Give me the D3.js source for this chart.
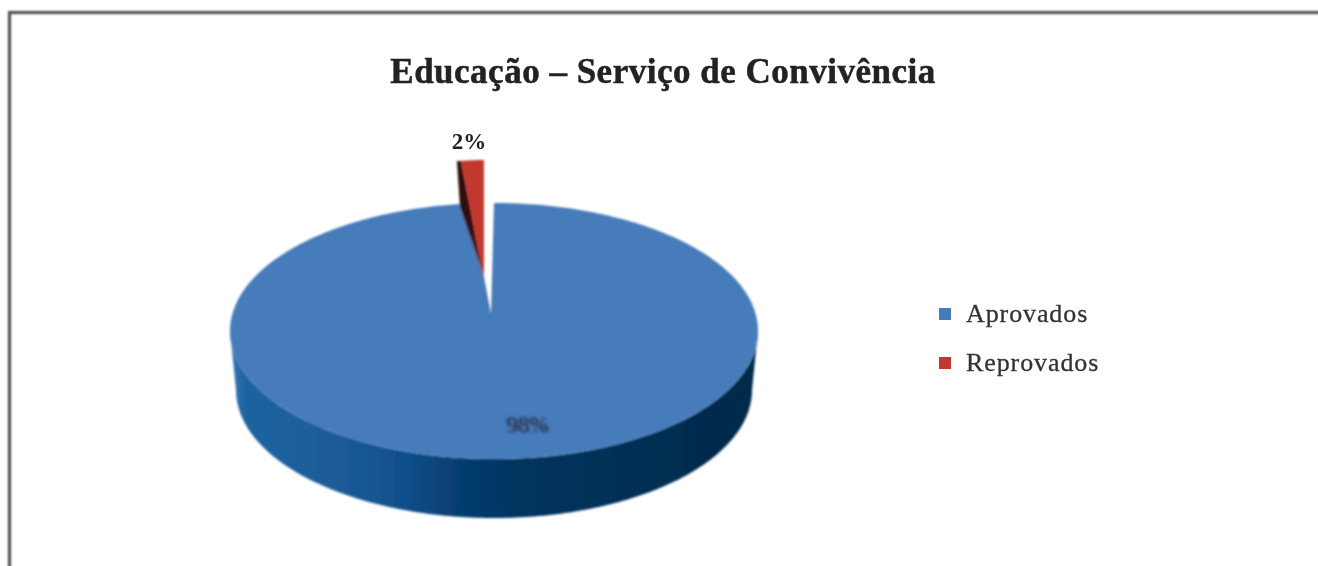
<!DOCTYPE html>
<html><head><meta charset="utf-8">
<script src="https://cdn.jsdelivr.net/npm/d3@7/dist/d3.min.js"></script>
<style>html,body{margin:0;background:#fff;overflow:hidden}svg{display:block}</style>
</head><body><svg id="c" width="1318" height="566"></svg>
<script>
const title = "Educação – Serviço de Convivência";
const categories = ["Aprovados", "Reprovados"];
const values = [98, 2];
const labels = ["98%", "2%"];
const colors = ["#477bbb", "#c0392f"];

const W = 1318, H = 566;
const svg = d3.select("#c").attr("viewBox", [0, 0, W, H]);
const defs = svg.append("defs");
const mkBlur = (id, s) => defs.append("filter").attr("id", id).attr("filterUnits", "userSpaceOnUse")
  .attr("x", 0).attr("y", 0).attr("width", W).attr("height", H)
  .append("feGaussianBlur").attr("stdDeviation", s);
mkBlur("soft", 0.9);
mkBlur("txt", 0.75);
mkBlur("smudge", 1.4);

const sideGrad = defs.append("linearGradient").attr("id", "side").attr("gradientUnits", "userSpaceOnUse")
  .attr("x1", 230).attr("x2", 758).attr("y1", 0).attr("y2", 0);
[[0, "#3a78bb"], [0.03, "#1f639f"], [0.2, "#1c5c98"], [0.33, "#104f8a"], [0.45, "#043b6c"], [0.55, "#013560"], [0.75, "#012f56"], [1, "#012a48"]]
  .forEach(([o, c]) => sideGrad.append("stop").attr("offset", o).attr("stop-color", c));
const redGrad = defs.append("linearGradient").attr("id", "redSide").attr("gradientUnits", "userSpaceOnUse")
  .attr("x1", 457).attr("x2", 484).attr("y1", 0).attr("y2", 0);
[[0, "#2a0a08"], [0.5, "#3a0f0c"], [1, "#7c1f18"]]
  .forEach(([o, c]) => redGrad.append("stop").attr("offset", o).attr("stop-color", c));

// frame
svg.append("path").attr("fill", "none").attr("stroke", "#4a4a4a").attr("stroke-width", 3).attr("filter", "url(#soft)")
  .attr("d", d3.line()([[9.5, H + 5], [9.5, 12.5], [W + 5, 12.5]]));

const serif = "'Liberation Serif', serif";
svg.append("text").attr("x", 663).attr("y", 83).attr("text-anchor", "middle")
  .attr("font-family", serif).attr("font-weight", "bold")
  .attr("font-size", 35).attr("letter-spacing", 0.5).attr("fill", "#222").attr("stroke", "#222").attr("stroke-width", 0.5)
  .attr("filter", "url(#txt)").text(title);

// pie geometry: angles from d3.pie, projected on a tilted ellipse
const arcs = d3.pie().sort(null).startAngle(0).endAngle(2 * Math.PI)(values);
const blue = arcs[0], red = arcs[1];
const proj = (cx, cy, rx, ry) => a => [cx + rx * Math.sin(a), cy - ry * Math.cos(a)];
const topRim = proj(494, 331, 264, 128);
const botRim = proj(494, 390, 258, 128);
const samples = (a0, a1, n = 180) => d3.range(n + 1).map(i => a0 + (a1 - a0) * i / n);

// side wall
const lower = samples(Math.PI / 2, 3 * Math.PI / 2);
const wall = lower.map(topRim).concat(lower.slice().reverse().map(botRim));
const pie = svg.append("g").attr("filter", "url(#soft)");
pie.append("path").attr("d", d3.line()(wall) + "Z").attr("fill", "url(#side)");

// blue face
const apex = [491, 314];
const redApex = [484, 277];
const face = [apex].concat(samples(blue.startAngle, blue.endAngle, 360).map(topRim), [redApex]);
pie.append("path").attr("d", d3.line()(face) + "Z").attr("fill", colors[0]);

// red exploded wedge
const rp = proj(redApex[0], redApex[1], 184, 117);
const ra = samples(red.startAngle, red.endAngle, 12).map(rp);
const tl = ra[0];
pie.append("path").attr("d", d3.line()([redApex, tl, [tl[0] - 4, tl[1]], [tl[0] - 1, tl[1] + 45]]) + "Z").attr("fill", "url(#redSide)");
pie.append("path").attr("d", d3.line()([redApex, ...ra]) + "Z").attr("fill", colors[1]);

// value labels
svg.append("text").attr("x", 469).attr("y", 149).attr("text-anchor", "middle").attr("font-family", serif).attr("font-weight", "bold")
  .attr("font-size", 23).attr("fill", "#222").attr("filter", "url(#txt)").text(labels[1]);
const big = svg.append("g").attr("filter", "url(#smudge)").attr("font-family", serif).attr("font-size", 23).attr("text-anchor", "middle");
big.append("text").attr("x", 527).attr("y", 432).attr("fill", "#27314f").text(labels[0]);
big.append("text").attr("x", 529).attr("y", 433).attr("fill", "#27314f").attr("opacity", 0.5).text(labels[0]);

// legend
const ly = d3.scalePoint().domain(categories).range([314, 363]);
const legend = svg.append("g").attr("filter", "url(#txt)");
const lg = legend.selectAll("g").data(categories).join("g").attr("transform", d => `translate(0,${ly(d)})`);
lg.append("rect").attr("x", 939).attr("y", -6).attr("width", 12).attr("height", 12)
  .attr("fill", (d, i) => colors[i]);
lg.append("text").attr("x", 966).attr("y", 8).attr("font-family", serif).attr("font-size", 26)
  .attr("letter-spacing", 0.9).attr("fill", "#333").attr("stroke", "#333").attr("stroke-width", 0.3).text(d => d);
</script></body></html>
